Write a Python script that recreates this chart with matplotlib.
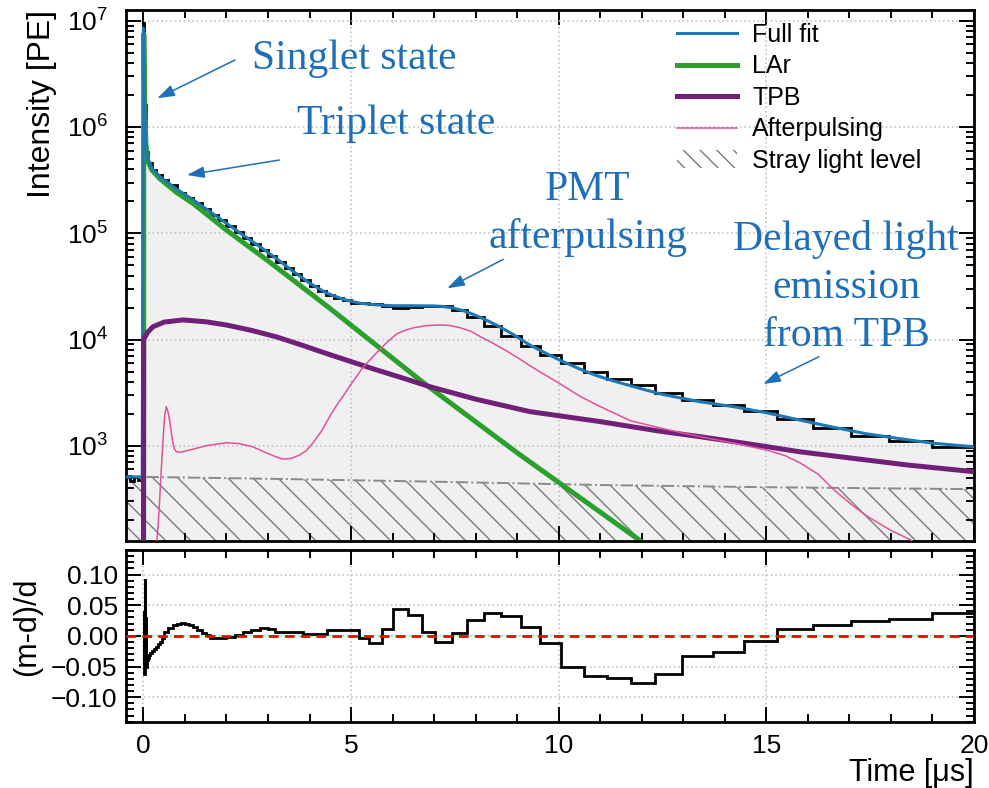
import matplotlib
matplotlib.use('Agg')
import matplotlib.pyplot as plt
from matplotlib.lines import Line2D
from matplotlib.patches import Patch
from matplotlib.ticker import MultipleLocator, AutoMinorLocator, LogLocator, NullFormatter

DPI = 150
k = 100 / DPI  # sizes below were picked for 100 dpi; scale them so pixels stay the same

plt.rcParams['font.family'] = ['Liberation Sans', 'DejaVu Sans']
plt.rcParams['hatch.linewidth'] = 1.0 * k

# measured spectrum: bin edges [us] and intensity [PE]
data_edges = [-0.42, -0.32, -0.22, -0.12, -0.02, 0.0, 0.02, 0.05, 0.1, 0.2, 0.3, 0.45, 0.6,
              0.8, 1.0, 1.2, 1.4, 1.6, 1.8, 2.0, 2.2, 2.4, 2.6, 2.8, 3.0, 3.2, 3.4, 3.6, 3.8,
              4.0, 4.2, 4.4, 4.6, 4.8, 5.0, 5.2, 5.44, 5.74, 6.02, 6.36, 6.70, 7.02, 7.42,
              7.79, 8.20, 8.62, 9.09, 9.56, 10.05, 10.60, 11.17, 11.74, 12.33, 12.98, 13.71,
              14.46, 15.26, 16.13, 17.03, 17.96, 18.98, 20.0]
data_vals = [520, 470, 505, 480, 700, 9.5e6, 1.6e6, 5.8e5, 4.6e5, 3.95e5, 3.55e5, 3.2e5,
             2.85e5, 2.41e5, 2.14e5, 1.91e5, 1.70e5, 1.50e5, 1.32e5, 1.16e5, 1.02e5, 8.96e4,
             7.89e4, 6.94e4, 6.11e4, 5.37e4, 4.68e4, 4.10e4, 3.62e4, 3.21e4, 2.89e4, 2.63e4,
             2.46e4, 2.33e4, 2.23e4, 2.19e4, 2.15e4, 2.07e4, 1.99e4, 2.01e4, 2.07e4, 2.06e4,
             1.89e4, 1.64e4, 1.35e4, 1.09e4, 8.68e3, 7.18e3, 6.0e3, 4.94e3, 4.24e3, 3.7e3,
             3.16e3, 2.71e3, 2.44e3, 2.12e3, 1.77e3, 1.48e3, 1.25e3, 1.10e3, 985]

# fit components
fit_t = [-0.42, -0.03, 0.0, 0.025, 0.05, 0.08, 0.12, 0.2, 0.4, 0.8, 1.2, 1.6, 2.0, 2.4, 2.8,
         3.2, 3.6, 4.0, 4.4, 4.8, 5.2, 5.6, 6.0, 6.5, 7.0, 7.2, 7.45, 7.7, 7.95, 8.2, 8.5,
         8.9, 9.3, 9.7, 10.1, 10.5, 10.9, 11.3, 11.7, 12.1, 12.5, 13.4, 14.2, 15.0, 15.8,
         16.6, 17.4, 18.2, 19.0, 20.0]
fit_vals = [510, 510, 8.5e6, 2.0e6, 8.0e5, 5.6e5, 4.8e5, 4.1e5, 3.4e5, 2.6e5, 2.06e5, 1.6e5,
            1.24e5, 9.6e4, 7.5e4, 5.8e4, 4.4e4, 3.4e4, 2.75e4, 2.4e4, 2.2e4, 2.12e4, 2.08e4,
            2.08e4, 2.07e4, 2.05e4, 1.98e4, 1.87e4, 1.72e4, 1.56e4, 1.37e4, 1.12e4, 8.9e3,
            7.4e3, 6.2e3, 5.3e3, 4.6e3, 4.1e3, 3.7e3, 3.35e3, 3.05e3, 2.6e3, 2.34e3, 2.05e3,
            1.75e3, 1.5e3, 1.3e3, 1.17e3, 1.06e3, 980]

lar_t = [0.005, 0.008, 0.03, 0.06, 0.1, 0.2, 0.4, 0.8, 1.2, 2.0, 3.0, 4.5, 6.75, 9.0, 12.2]
lar_vals = [60, 7.5e6, 1.8e6, 7.0e5, 4.85e5, 3.95e5, 3.25e5, 2.42e5, 1.9e5, 1.07e5, 5.5e4,
            1.95e4, 3.9e3, 8.6e2, 110]

tpb_t = [0.0, 0.005, 0.1, 0.23, 0.5, 0.95, 1.5, 2.0, 2.6, 3.2, 3.8, 4.4, 5.0, 5.6, 6.2, 6.9,
         8.0, 9.3, 11.0, 12.4, 13.4, 14.6, 15.8, 17.0, 18.4, 20.0]
tpb_vals = [60, 1.0e4, 1.17e4, 1.32e4, 1.46e4, 1.53e4, 1.47e4, 1.37e4, 1.22e4, 1.06e4, 8.9e3,
            7.4e3, 6.2e3, 5.2e3, 4.4e3, 3.6e3, 2.75e3, 2.1e3, 1.69e3, 1.38e3, 1.22e3, 1.04e3,
            880, 770, 660, 571]

ap_t = [0.30, 0.35, 0.39, 0.43, 0.47, 0.51, 0.55, 0.59, 0.63, 0.67, 0.71, 0.75, 0.79, 0.9,
        1.19, 1.5, 1.99, 2.3, 2.63, 2.9, 3.15, 3.35, 3.55, 3.76, 3.92, 4.08, 4.3, 4.49, 4.65,
        4.8, 5.0, 5.29, 5.45, 5.6, 5.85, 6.1, 6.3, 6.5, 6.81, 7.1, 7.35, 7.6, 7.9, 8.12, 8.4,
        8.7, 9.0, 9.33, 9.65, 10.0, 10.53, 11.0, 11.73, 12.62, 13.4, 14.22, 15.02, 15.45,
        15.83, 16.25, 16.63, 17.05, 17.44, 18.0, 18.48, 18.7]
ap_vals = [100, 170, 310, 600, 1.1e3, 1.9e3, 2.34e3, 2.1e3, 1.75e3, 1.35e3, 1.06e3, 930, 880,
           870, 930, 1.0e3, 1.07e3, 1.05e3, 980, 880, 800, 750, 760, 820, 900, 1.06e3,
           1.4e3, 1.9e3, 2.4e3, 2.9e3, 3.8e3, 5.5e3, 6.4e3, 7.4e3, 9.3e3, 1.13e4, 1.22e4,
           1.29e4, 1.35e4, 1.37e4, 1.36e4, 1.3e4, 1.19e4, 1.06e4, 9.3e3, 8.0e3, 6.8e3, 5.6e3,
           4.7e3, 3.9e3, 2.9e3, 2.34e3, 1.72e3, 1.42e3, 1.22e3, 1.06e3, 910, 810, 685, 540,
           385, 280, 216, 160, 130, 110]

stray_t = [-0.42, 3.0, 7.0, 11.0, 15.0, 20.0]
stray_vals = [513, 490, 460, 428, 408, 391]

# relative residual (m-d)/d
res_edges = [0.0, 0.01, 0.02, 0.03, 0.04, 0.05, 0.06, 0.08, 0.1, 0.13, 0.16, 0.2, 0.25, 0.3,
             0.35, 0.4, 0.45, 0.5, 0.6, 0.7, 0.8, 0.9, 1.0, 1.1, 1.2, 1.3, 1.4, 1.5, 1.6, 1.8,
             2.0, 2.2, 2.4, 2.6, 2.8, 3.0, 3.17, 3.84, 4.43, 5.20, 5.44, 5.74, 6.02, 6.36,
             6.70, 7.02, 7.42, 7.79, 8.20, 8.62, 9.09, 9.56, 10.05, 10.60, 11.17, 11.74,
             12.33, 12.98, 13.71, 14.46, 15.26, 16.13, 17.03, 17.96, 18.98, 20.0]
res_vals = [-0.045, 0.04, -0.062, 0.092, -0.035, 0.03, -0.05, -0.04, -0.036, -0.031, -0.028,
            -0.024, -0.021, -0.018, -0.014, -0.01, -0.004, 0.006, 0.013, 0.017, 0.019, 0.021,
            0.020, 0.018, 0.014, 0.010, 0.005, 0.001, -0.003, -0.003, -0.002, 0.002, 0.006,
            0.010, 0.013, 0.011, 0.0065, 0.003, 0.009, -0.004, -0.011, 0.011, 0.0435, 0.034,
            0.0065, -0.0095, 0.004, 0.0256, 0.0375, 0.032, 0.0137, -0.0114, -0.0515, -0.0656,
            -0.068, -0.0775, -0.0624, -0.032, -0.026, -0.008, 0.012, 0.017, 0.0244, 0.028,
            0.0375]

c_fit = '#1f77b4'
c_lar = '#2ca02c'
c_tpb = '#712079'
c_ap = '#e2509a'
c_note = '#1f6fb8'

fig = plt.figure(figsize=(989 / DPI, 788 / DPI), dpi=DPI)
ax = fig.add_axes([0.1274, 0.3138, 0.8574, 0.6735])
rax = fig.add_axes([0.1274, 0.0841, 0.8574, 0.2179], sharex=ax)

# main panel
ax.fill_between(fit_t, fit_vals, 1, color='#f0f0f0', lw=0, zorder=0.2)
ax.fill_between(stray_t, stray_vals, 1, facecolor='none', edgecolor='#7a7a7a', hatch='\\\\',
                lw=0, zorder=0.3)
ax.plot(stray_t, stray_vals, color='#8a8a8a', ls='-.', lw=1.4 * k, zorder=0.35)
ax.stairs(data_vals, data_edges, baseline=None, color='black', lw=2 * k, zorder=2)
ax.plot(lar_t, lar_vals, color=c_lar, lw=3.6 * k, zorder=2.5)
ax.plot(fit_t, fit_vals, color=c_fit, lw=2.2 * k, zorder=3)
ax.plot(tpb_t, tpb_vals, color=c_tpb, lw=3.6 * k, zorder=3.2)
ax.plot(ap_t, ap_vals, color=c_ap, lw=1.1 * k, zorder=3.3)

ax.set_yscale('log')
ax.set_xlim(-0.42, 20)
ax.set_ylim(128, 1.26e7)
ax.yaxis.set_major_locator(LogLocator(base=10, numticks=12))
ax.yaxis.set_minor_locator(LogLocator(base=10, subs=range(2, 10), numticks=12))
ax.yaxis.set_minor_formatter(NullFormatter())
ax.set_ylabel('Intensity [PE]', fontsize=23 * k, loc='top')
ax.yaxis.set_label_coords(-0.081, 1.0)
ax.tick_params(labelbottom=False)

handles = [Line2D([], [], color=c_fit, lw=2.2 * k),
           Line2D([], [], color=c_lar, lw=3.6 * k),
           Line2D([], [], color=c_tpb, lw=3.6 * k),
           Line2D([], [], color=c_ap, lw=1.1 * k),
           Patch(facecolor='none', edgecolor='#7a7a7a', hatch='\\\\\\', lw=0)]
labels = ['Full fit', 'LAr', 'TPB', 'Afterpulsing', 'Stray light level']
ax.legend(handles, labels, loc='upper left', bbox_to_anchor=(0.6498, 0.9756), frameon=False,
          fontsize=18 * k, handlelength=2.4, handletextpad=0.6, labelspacing=0.3,
          borderpad=0, borderaxespad=0)

# annotations
note = dict(color=c_note, fontsize=30 * k, family='Liberation Serif', ha='center',
            va='baseline', transform=ax.transAxes)
ax.text(0.2689, 0.8888, 'Singlet state', **note)
ax.text(0.3190, 0.7658, 'Triplet state', **note)
ax.text(0.5448, 0.6420, 'PMT', **note)
ax.text(0.5448, 0.5511, 'afterpulsing', **note)
ax.text(0.8491, 0.5477, 'Delayed light', **note)
ax.text(0.8491, 0.4573, 'emission', **note)
ax.text(0.8491, 0.3674, 'from TPB', **note)

arrow = dict(arrowstyle='-|>,head_length=0.75,head_width=0.25', mutation_scale=14 * k,
             color=c_note, lw=1.1 * k, shrinkA=0, shrinkB=0)
for tail, tip in [((0.1285, 0.9058), (0.0369, 0.8336)),
                  ((0.1808, 0.7173), (0.0719, 0.6891)),
                  ((0.4449, 0.5302), (0.3789, 0.4756)),
                  ((0.8172, 0.3467), (0.7515, 0.2953))]:
    ax.annotate('', xy=tip, xytext=tail, xycoords='axes fraction',
                textcoords='axes fraction', arrowprops=arrow)

# residual panel
rax.stairs(res_vals, res_edges, baseline=None, color='black', lw=2 * k, zorder=2)
rax.axhline(0, color='red', ls=(0, (3.5, 2.2)), lw=2 * k, zorder=3)
rax.set_ylim(-0.14, 0.14)
rax.yaxis.set_major_locator(MultipleLocator(0.05))
rax.yaxis.set_minor_locator(AutoMinorLocator(5))
rax.set_ylabel('(m-d)/d', fontsize=22 * k)
rax.yaxis.set_label_coords(-0.099, 0.553)
rax.set_xlabel('Time [μs]', fontsize=22 * k, loc='right')
rax.xaxis.set_label_coords(1.0, -0.211)

rax.xaxis.set_major_locator(MultipleLocator(5))
rax.xaxis.set_minor_locator(MultipleLocator(1))

for a in (ax, rax):
    a.tick_params(which='both', direction='in', top=True, right=True, width=1.4 * k,
                  labelsize=19 * k)
    a.tick_params(which='major', length=11 * k)
    a.tick_params(which='minor', length=6 * k)
    a.tick_params(axis='x', pad=9 * k)
    for s in a.spines.values():
        s.set_linewidth(2 * k)
    a.grid(True, which='major', ls=':', color='#c4c4c4', lw=1.2 * k)
    a.set_axisbelow(True)
ax.tick_params(axis='y', pad=13 * k)
rax.tick_params(axis='y', pad=6 * k)

fig.savefig('out.png', dpi=DPI)
